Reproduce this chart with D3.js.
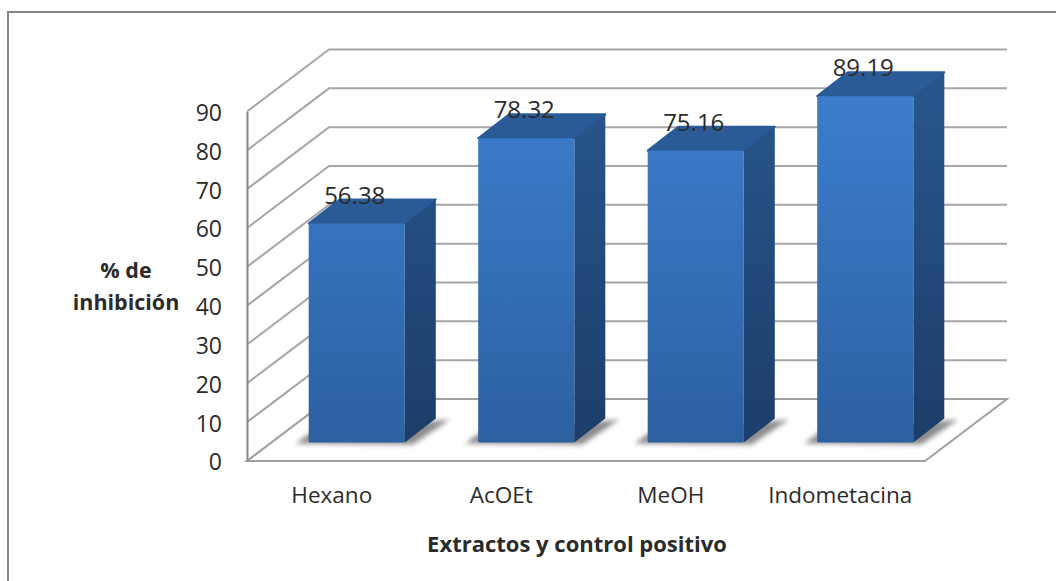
<!DOCTYPE html>
<html>
<head>
<meta charset="utf-8">
<script src="https://cdn.jsdelivr.net/npm/d3@7"></script>
<style>
html, body { margin: 0; padding: 0; background: #fff; }
svg { display: block; }
text { font-family: "Open Sans", sans-serif; fill: #2b2b2b; }
</style>
</head>
<body>
<div id="svg"></div>
<script>
var categories = ["Hexano", "AcOEt", "MeOH", "Indometacina"];
var values = [56.38, 78.32, 75.16, 89.19];
var yTicks = [0, 10, 20, 30, 40, 50, 60, 70, 80, 90];
var yTitleLines = ["% de", "inhibición"];
var xTitle = "Extractos y control positivo";

var svgWidth = 1056, svgHeight = 581;

// oblique projection of the 3D box
var wallDx = 82, wallDy = -62;     // front edge to back wall
var barPlaneDx = 25, barPlaneDy = -18.5; // front edge to front face of the bars
var barDepthDx = 31, barDepthDy = -24;

var svg = d3.select("div#svg").append("svg")
    .attr("width", svgWidth)
    .attr("height", svgHeight)
    .attr("viewBox", "0 0 " + svgWidth + " " + svgHeight);

var y = d3.scaleLinear().domain([0, 90]).range([461, 111.5]);
var x = d3.scaleBand().domain(categories)
    .range([247 + barPlaneDx, 925 + barPlaneDx])
    .paddingInner(0.433)
    .paddingOuter(0.2165);
var floorX = d3.scaleBand().domain(categories).range([247, 925]);

function pts(list) {
    return list.map(function(p) { return p[0] + "," + p[1]; }).join(" ");
}

//gradients and floor shadow
var defs = svg.append("defs");
function addGradient(id, top, bottom) {
    var g = defs.append("linearGradient").attr("id", id)
        .attr("gradientUnits", "userSpaceOnUse")
        .attr("x1", 0).attr("y1", y(90))
        .attr("x2", 0).attr("y2", y(0));
    g.append("stop").attr("offset", "0%").attr("stop-color", top);
    g.append("stop").attr("offset", "100%").attr("stop-color", bottom);
}
addGradient("frontFill", "#3b7ccb", "#2b5f9f");
addGradient("sideFill", "#27548a", "#1c3c68");
defs.append("filter").attr("id", "soft")
    .attr("x", "-30%").attr("y", "-60%").attr("width", "160%").attr("height", "220%")
    .append("feGaussianBlur").attr("stdDeviation", 2.5);

//chart border
svg.append("rect")
    .attr("x", 8).attr("y", 12)
    .attr("width", 1060).attr("height", 600)
    .style("fill", "#fff")
    .style("stroke", "#868686").style("stroke-width", 2);

//grid on the walls
var grid = svg.append("g").attr("id", "grid");
yTicks.forEach(function(t) {
    grid.append("polyline")
        .attr("points", pts([
            [247, y(t)],
            [247 + wallDx, y(t) + wallDy],
            [925 + wallDx, y(t) + wallDy]
        ]))
        .attr("fill", "none")
        .style("stroke", "#a6a6a6").style("stroke-width", 2);
});

//floor
grid.append("polygon")
    .attr("points", pts([
        [247, y(0)],
        [247 + wallDx, y(0) + wallDy],
        [925 + wallDx, y(0) + wallDy],
        [925, y(0)]
    ]))
    .attr("fill", "#fff")
    .style("stroke", "#a0a0a0").style("stroke-width", 2);

//value axis
var yAxis = d3.axisLeft(y).tickValues(yTicks).tickSize(0).tickPadding(25);
var yAxisG = svg.append("g").attr("transform", "translate(247,0)").call(yAxis);
yAxisG.select(".domain").style("stroke", "#868686").style("stroke-width", 2);
yAxisG.selectAll("text").style("font-size", "23px").attr("dy", "0.39em");

//category axis
var xAxis = d3.axisBottom(floorX).tickSize(0).tickPadding(26);
var xAxisG = svg.append("g").attr("transform", "translate(0," + y(0) + ")").call(xAxis);
xAxisG.select(".domain").remove();
xAxisG.selectAll("text").style("font-size", "22.5px");

//bars
var barBottom = y(0) + barPlaneDy;
var bars = svg.append("g").attr("id", "bars").selectAll("g")
    .data(categories).enter().append("g");

// shadow on the floor
bars.append("polygon")
    .attr("points", function(d) {
        var x0 = x(d), x1 = x(d) + x.bandwidth();
        return pts([
            [x0 - 13, barBottom + 1],
            [x0 + 2, barBottom - 10],
            [x1 + barDepthDx + 14, barBottom + barDepthDy + 1],
            [x1 + 8, barBottom + 2]
        ]);
    })
    .attr("fill", "#5c5c5c")
    .attr("opacity", 0.7)
    .attr("filter", "url(#soft)");

// top face
bars.append("polygon")
    .attr("points", function(d, i) {
        var top = y(values[i]) + barPlaneDy;
        var x0 = x(d), x1 = x(d) + x.bandwidth();
        return pts([
            [x0, top],
            [x0 + barDepthDx, top + barDepthDy],
            [x1 + barDepthDx, top + barDepthDy],
            [x1, top]
        ]);
    })
    .attr("fill", "#2a5b97")
    .attr("stroke", "#2a5b97").attr("stroke-width", 2).attr("stroke-linejoin", "round");

// side face
bars.append("polygon")
    .attr("points", function(d, i) {
        var top = y(values[i]) + barPlaneDy;
        var x1 = x(d) + x.bandwidth();
        return pts([
            [x1, top],
            [x1 + barDepthDx, top + barDepthDy],
            [x1 + barDepthDx, barBottom + barDepthDy],
            [x1, barBottom]
        ]);
    })
    .attr("fill", "url(#sideFill)");

// front face
bars.append("rect")
    .attr("x", function(d) { return x(d); })
    .attr("y", function(d, i) { return y(values[i]) + barPlaneDy; })
    .attr("width", x.bandwidth())
    .attr("height", function(d, i) { return barBottom - y(values[i]) - barPlaneDy; })
    .attr("rx", 1.5)
    .attr("fill", "url(#frontFill)");

// value labels
bars.append("text")
    .text(function(d, i) { return values[i].toFixed(2); })
    .attr("x", function(d) { return x(d) + x.bandwidth() / 2 - 2; })
    .attr("y", function(d, i) { return y(values[i]) + barPlaneDy - 20; })
    .attr("text-anchor", "middle")
    .style("font-size", "24px");

//axis titles
svg.append("text")
    .attr("text-anchor", "middle")
    .style("font-size", "21.5px").style("font-weight", "700")
    .selectAll("tspan").data(yTitleLines).enter().append("tspan")
    .attr("x", 126)
    .attr("y", function(d, i) { return 278 + i * 32; })
    .text(function(d) { return d; });

svg.append("text")
    .text(xTitle)
    .attr("x", 577).attr("y", 552)
    .attr("text-anchor", "middle")
    .style("font-size", "22px").style("font-weight", "700");
</script>
</body>
</html>
